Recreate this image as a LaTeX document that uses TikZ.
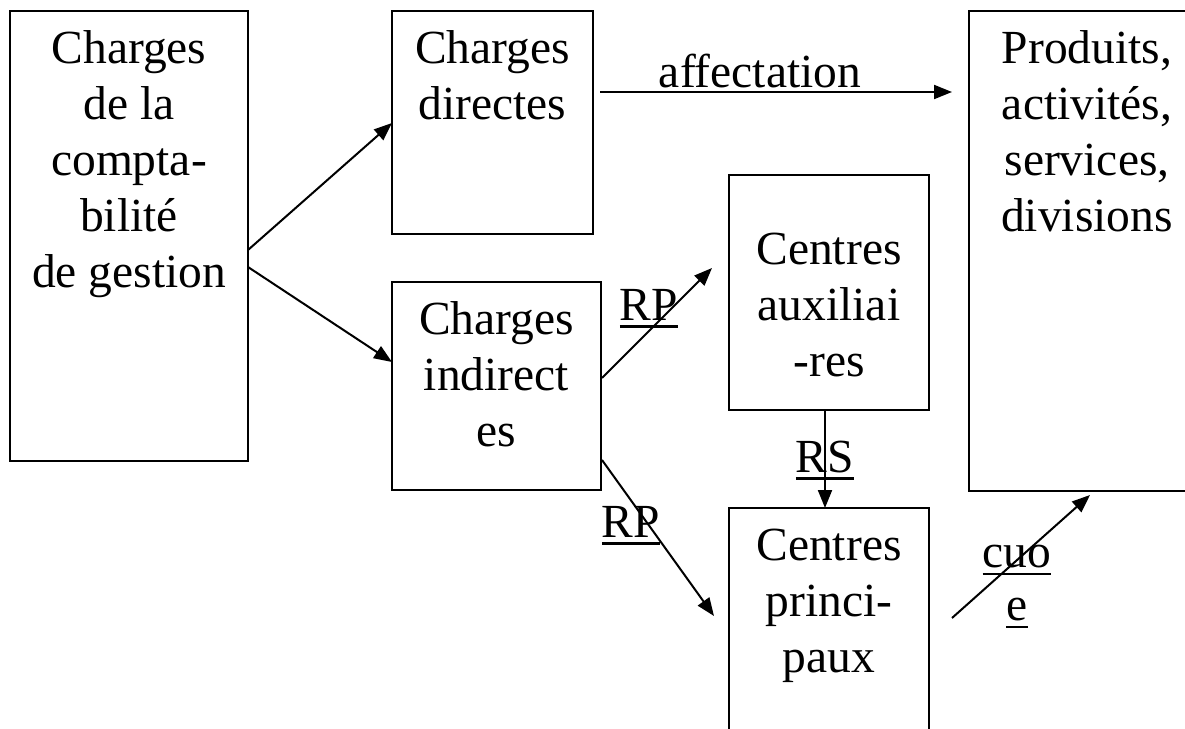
\documentclass[tikz,border=0pt]{standalone}
\usepackage{fontspec}
\setmainfont{Liberation Serif}
\usetikzlibrary{arrows.meta,calc}
\newcommand{\firstline}{\rule{0pt}{40pt}}
\newcommand{\myul}[1]{\setbox0\hbox{#1}\rlap{\rule[-8pt]{\wd0}{2.6pt}}\box0}
\tikzset{
  boxnode/.style={draw, line width=2.4pt, rectangle, inner sep=0pt, outer sep=0pt},
  txt/.style={anchor=north, align=center, inner sep=0pt, font=\fontsize{47.5}{56}\selectfont},
  lbl/.style={anchor=base, inner sep=0pt, font=\fontsize{47.5}{53}\selectfont},
  arr/.style={line width=2pt, -{Triangle[length=18pt,width=14pt]}}
}
\begin{document}
\begin{tikzpicture}[x=1pt,y=-1pt]
\useasboundingbox (0,0) rectangle (1185,728);
\clip (0,0) rectangle (1185,728);
\fill[white] (0,0) rectangle (1185,728);
% boxes
\node[boxnode, minimum width=238pt, minimum height=450pt] (b1) at (129,236) {};
\node[boxnode, minimum width=201pt, minimum height=223pt] (b2) at (492.5,122.5) {};
\node[boxnode, minimum width=209pt, minimum height=208pt] (b3) at (496.5,386) {};
\node[boxnode, minimum width=200pt, minimum height=235pt] (b4) at (829,292.5) {};
\node[boxnode, minimum width=200pt, minimum height=252pt] (b5) at (829,634) {};
\node[boxnode, minimum width=236pt, minimum height=480pt] (b6) at (1087,251) {};
% texts
\node[txt] (t1) at (b1.north |- 0,23) {\firstline Charges\\de la\\compta-\\bilité\\de gestion};
\node[txt] (t2) at (b2.north |- 0,23) {\firstline Charges\\directes};
\node[txt] (t3) at (b3.north |- 0,294) {\firstline Charges\\indirect\\es};
\node[txt] (t4) at (b4.north |- 0,224) {\firstline Centres\\auxiliai\\-res};
\node[txt] (t5) at (b5.north |- 0,520) {\firstline Centres\\princi-\\paux};
\node[txt] (t6) at (b6.north |- 0,23) {\firstline Produits,\\activités,\\services,\\divisions};
% connector end points
\coordinate (a1s) at ($(b1.north east)+(0,239)$);
\coordinate (a1e) at ($(b2.north west)+(0,112)$);
\coordinate (a2s) at ($(b1.north east)+(0,256)$);
\coordinate (a2e) at ($(b3.north west)+(0,80)$);
\coordinate (a3s) at ($(b2.north east)+(7,81)$);
\coordinate (a3e) at ($(b6.north west)+(-17,81)$);
\coordinate (a4s) at ($(b3.north east)+(1,96)$);
\coordinate (a4e) at ($(b4.south west)+(-17,-142)$);
\coordinate (a5s) at ($(b3.north east)+(1,178)$);
\coordinate (a5e) at ($(b5.north west)+(-15,108)$);
\coordinate (a6s) at ($(b4.south west)!0.48!(b4.south east)$);
\coordinate (a6e) at ($(b5.north west)!0.48!(b5.north east)$);
\coordinate (a7s) at ($(b5.north east)+(23,110)$);
\coordinate (a7e) at ($(b6.south west)+(121,4)$);
% connectors
\draw[arr] (a1s) -- (a1e);
\draw[arr] (a2s) -- (a2e);
\draw[arr] (a3s) -- (a3e);
\draw[arr] (a4s) -- (a4e);
\draw[arr] (a5s) -- (a5e);
\draw[arr] (a6s) -- (a6e);
\draw[arr] (a7s) -- (a7e);
% labels
\node[lbl] (l1) at (760,87) {affectation};
\node[lbl] (l2) at (649,320) {\myul{RP}};
\node[lbl] (l3) at (631,537) {\myul{RP}};
\node[lbl] (l4) at (825,472) {\myul{RS}};
\node[lbl, anchor=north, align=center] (l5) at (1017,527) {\firstline\myul{cuo}\\\myul{e}};
\end{tikzpicture}
\end{document}
